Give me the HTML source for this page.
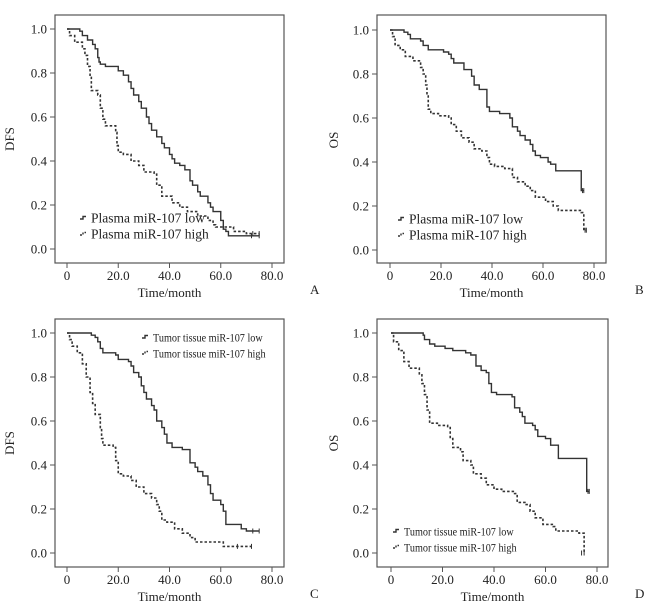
<!DOCTYPE html>
<html><head><meta charset="utf-8"><style>
body{margin:0;background:#fff;width:666px;height:608px;overflow:hidden}
svg{display:block}
text{font-family:"Liberation Serif",serif;fill:#222}
</style></head><body>
<svg id="s" width="666" height="608" viewBox="0 0 666 608"></svg>
<script>
// Panel A: DFS by plasma miR-107
const aLowT=[0,5,6,8,10,11,12,12.5,13,15,20,22,24,25,26,28,29,31,32,33,35,37,38,40,41,42,44,46,48,49,51,52,55,56,57,60,61,62,63,69,75];
const aLowS=[1,0.99,0.97,0.95,0.93,0.91,0.87,0.85,0.84,0.83,0.81,0.79,0.76,0.73,0.70,0.67,0.64,0.60,0.57,0.54,0.51,0.48,0.46,0.43,0.41,0.39,0.38,0.36,0.31,0.29,0.26,0.24,0.21,0.19,0.17,0.13,0.09,0.08,0.06,0.06,0.06];
const aHighT=[0,1,3,6,7,8,9,9.5,12,13,14,15,19,19.5,20,22,25,28,30,34,35,37,41,44,47,51,55,57,58,65,70,75];
const aHighS=[1,0.97,0.94,0.91,0.88,0.83,0.78,0.72,0.70,0.64,0.59,0.56,0.53,0.47,0.44,0.43,0.40,0.38,0.35,0.34,0.29,0.24,0.21,0.19,0.17,0.15,0.13,0.11,0.10,0.08,0.07,0.07];
// Panel B: OS by plasma miR-107
const bLowT=[0,5.5,7,8,12,13,15,21,23,24,25,29,32,33,35,38,39,43,47,48,50,51,53,55,56,57,59,62,63,65,75,76];
const bLowS=[1,0.99,0.98,0.96,0.95,0.93,0.91,0.90,0.89,0.87,0.85,0.82,0.79,0.75,0.73,0.65,0.63,0.62,0.60,0.56,0.54,0.52,0.50,0.48,0.45,0.43,0.42,0.40,0.39,0.36,0.27,0.27];
const bHighT=[0,1,2,4,6,9,12,13,14,14.5,15,16,19,23,24,26,28,31,33,36,38,39,41,45,48,50,53,55,57,61,64,66,75,76,77];
const bHighS=[1,0.97,0.93,0.91,0.88,0.86,0.83,0.80,0.75,0.70,0.64,0.62,0.61,0.60,0.57,0.54,0.51,0.49,0.46,0.45,0.42,0.39,0.38,0.37,0.33,0.31,0.29,0.27,0.24,0.22,0.20,0.18,0.17,0.09,0.09];
// Panel C: DFS by tumor tissue miR-107
const cLowT=[0,9.5,11,12,13,14,19,20,24,25,26,28,29,30,31,33,34,35,37,38,39,41,45,48,50,51,53,55,56,57,60,61,62,68,70,75];
const cLowS=[1,0.99,0.98,0.96,0.93,0.91,0.90,0.88,0.87,0.85,0.82,0.80,0.76,0.73,0.70,0.67,0.65,0.60,0.57,0.54,0.50,0.48,0.47,0.41,0.39,0.37,0.35,0.31,0.27,0.24,0.22,0.19,0.13,0.11,0.10,0.10];
const cHighT=[0,1,2,4,6,7.5,9,10,11,13,13.5,14,18,19,20,22,25,27,30,33,35,36,37,39,42,45,48,50,61,72];
const cHighS=[1,0.97,0.94,0.91,0.86,0.80,0.73,0.68,0.63,0.57,0.52,0.49,0.48,0.42,0.36,0.35,0.33,0.30,0.27,0.25,0.22,0.19,0.15,0.14,0.11,0.09,0.07,0.05,0.03,0.03];
// Panel D: OS by tumor tissue miR-107
const dLowT=[0,12.5,13,15,17,21,24,29,31,33,35,37,38,39,41,47,48,50,51,52,55,56,57,60,62,65,76,77];
const dLowS=[1,0.99,0.97,0.95,0.94,0.93,0.92,0.91,0.90,0.85,0.83,0.82,0.77,0.73,0.72,0.71,0.66,0.64,0.62,0.59,0.58,0.56,0.53,0.52,0.49,0.43,0.28,0.28];
const dHighT=[0,1,3,5,7,11,12,13,14,15,18,22,23,24,27,28,31,32,35,37,40,43,48,49,52,54,56,59,63,64,73,75];
const dHighS=[1,0.96,0.92,0.87,0.84,0.81,0.77,0.72,0.65,0.59,0.58,0.57,0.52,0.48,0.46,0.42,0.40,0.36,0.34,0.31,0.29,0.28,0.27,0.23,0.22,0.19,0.16,0.13,0.12,0.10,0.09,0.0];
const xTicks=[0,20,40,60,80];
const xTickLabels=["0","20.0","40.0","60.0","80.0"];
const yTicks=[0,0.2,0.4,0.6,0.8,1.0];
const yTickLabels=["0.0","0.2","0.4","0.6","0.8","1.0"];

const NS="http://www.w3.org/2000/svg";
const svg=document.getElementById('s');
function mk(tag,attrs,parent){const e=document.createElementNS(NS,tag);for(const k in attrs)e.setAttribute(k,attrs[k]);(parent||svg).appendChild(e);return e;}

const panels=[
 {id:'a',box:[55,15,284,263],x0:67,x1:272,y1:29,y0:249,yl:'DFS',yx:14,letter:'A',lx:310,low:[aLowT,aLowS],high:[aHighT,aHighS],leg:['Plasma miR-107 low','Plasma miR-107 high'],legX:80,legY:218,legFs:13.5,legSx:1},
 {id:'b',box:[377,15,606,263],x0:390,x1:594,y1:30,y0:250,yl:'OS',yx:338,letter:'B',lx:635,low:[bLowT,bLowS],high:[bHighT,bHighS],leg:['Plasma miR-107 low','Plasma miR-107 high'],legX:398,legY:219,legFs:13.5,legSx:1},
 {id:'c',box:[55,319,284,567],x0:67,x1:272,y1:333,y0:553,yl:'DFS',yx:14,letter:'C',lx:310,low:[cLowT,cLowS],high:[cHighT,cHighS],leg:['Tumor tissue miR-107 low','Tumor tissue miR-107 high'],legX:142,legY:337,legFs:12,legSx:0.85},
 {id:'d',box:[377,319,608,567],x0:391,x1:597,y1:333,y0:553,yl:'OS',yx:338,letter:'D',lx:635,low:[dLowT,dLowS],high:[dHighT,dHighS],leg:['Tumor tissue miR-107 low','Tumor tissue miR-107 high'],legX:393,legY:531,legFs:12,legSx:0.85}
];

panels.forEach(p=>{
 const g=mk('g',{});
 
 
 const sx=v=>p.x0+(p.x1-p.x0)*v/80;
 const sy=v=>p.y0+(p.y1-p.y0)*v;
 const [L,T,R,B]=p.box;
 const fr=mk('rect',{x:L,y:T,width:R-L,height:B-T,fill:'none',stroke:'#555','stroke-width':1.2},g);
 
 
 xTicks.forEach((v,i)=>{
  mk('line',{x1:sx(v),x2:sx(v),y1:B,y2:B+5,stroke:'#555'},g);
  const t=mk('text',{x:sx(v),y:B+17,'text-anchor':'middle','font-size':13},g);
  t.textContent=xTickLabels[i];
  
  
 });
 yTicks.forEach((v,i)=>{
  mk('line',{x1:L-5,x2:L,y1:sy(v),y2:sy(v),stroke:'#555'},g);
  const t=mk('text',{x:L-8,y:sy(v)+4.5,'text-anchor':'end','font-size':13},g);
  t.textContent=yTickLabels[i];
  
  
 });
 const xt=mk('text',{x:(L+R)/2,y:B+34,'text-anchor':'middle','font-size':13},g);
 xt.textContent='Time/month';
 
 
 const yt=mk('text',{x:p.yx,y:(sy(0)+sy(1))/2,'text-anchor':'middle','font-size':13,transform:`rotate(-90 ${p.yx} ${(sy(0)+sy(1))/2})`},g);
 yt.textContent=p.yl;
 
 
 const lt=mk('text',{x:p.lx,y:B+31,'font-size':13},g);
 lt.textContent=p.letter;
 
 
 function curve(ts,ss,dash,name){
  let d=`M${sx(ts[0])},${sy(ss[0])}`;
  for(let i=1;i<ts.length;i++){d+=` H${sx(ts[i])} V${sy(ss[i])}`;}
  const pa=mk('path',{d:d,fill:'none',stroke:'#333','stroke-width':dash?1.6:1.4,'stroke-dasharray':dash?'2.5,2':'none'},g);
  
  
  // censor marks near end
  const n=ts.length;
  [ts[n-1],ts[n-2]+ (ts[n-1]-ts[n-2])*0.5].forEach(tt=>{
   const cm=mk('path',{d:`M${sx(tt)},${sy(ss[n-1])-2.5}V${sy(ss[n-1])+2.5}`,stroke:'#333','stroke-width':1},g);
   
   
  });
 }
 curve(p.low[0],p.low[1],false,'curve-low');
 curve(p.high[0],p.high[1],true,'curve-high');
 [0,1].forEach(i=>{
  const y=p.legY+i*16;
  const sym=mk('path',{d:`M${p.legX},${y+1} H${p.legX+3} V${y-1.5} H${p.legX+6}`,fill:'none',stroke:'#333','stroke-width':1.4,'stroke-dasharray':i?'2,1.5':'none'},g);
  
  
  const tx=p.legX+11;
  const t=mk('text',{x:tx,y:y+4.5,'font-size':p.legFs,transform:`translate(${tx*(1-p.legSx)},0) scale(${p.legSx},1)`},g);
  t.textContent=p.leg[i];
  
  
 });
});
</script>
</body></html>
